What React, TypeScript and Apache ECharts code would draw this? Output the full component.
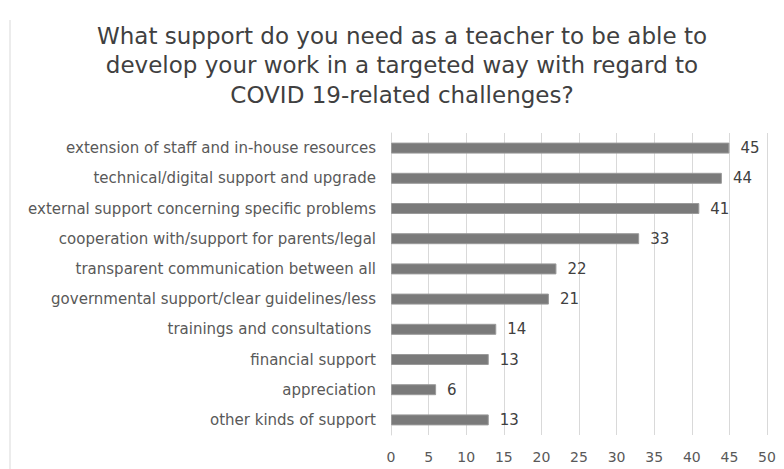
import React, { useEffect, useRef } from "react";
import * as echarts from "echarts";

const categories = [
  "extension of staff and in-house resources",
  "technical/digital support and upgrade",
  "external support concerning specific problems",
  "cooperation with/support for parents/legal",
  "transparent communication between all",
  "governmental support/clear guidelines/less",
  "trainings and consultations ",
  "financial support",
  "appreciation",
  "other kinds of support",
];
const values = [45, 44, 41, 33, 22, 21, 14, 13, 6, 13];
const titleText =
  "What support do you need as a teacher to be able to\ndevelop your work in a targeted way with regard to\nCOVID 19-related challenges?";

export default function App() {
  const ref = useRef<HTMLDivElement>(null);
  useEffect(() => {
    if (!ref.current) return;
    const chart = echarts.init(ref.current, null, { renderer: "svg" });
    chart.setOption({
      animation: false,
      backgroundColor: "#ffffff",
      graphic: [
        {
          type: "line",
          shape: { x1: 10, y1: 20, x2: 10, y2: 469 },
          style: { stroke: "#d9d9d9", lineWidth: 1 },
        },
        {
          type: "text",
          x: 402,
          y: 21,
          style: {
            text: titleText,
            textAlign: "center",
            textVerticalAlign: "top",
            fontFamily: "DejaVu Sans, sans-serif",
            fontSize: 23,
            lineHeight: 29.5,
            fill: "#404040",
          },
        },
      ],
      grid: { left: 391, right: 17, top: 133, bottom: 34, containLabel: false },
      xAxis: {
        type: "value",
        min: 0,
        max: 50,
        interval: 5,
        axisLine: { show: false },
        axisTick: { show: false },
        splitLine: { show: true, lineStyle: { color: "#d9d9d9", width: 1 } },
        axisLabel: {
          color: "#595959",
          fontFamily: "DejaVu Sans, sans-serif",
          fontSize: 14,
          margin: 15,
        },
      },
      yAxis: {
        type: "category",
        inverse: true,
        data: categories,
        axisLine: { show: true, lineStyle: { color: "#d9d9d9" } },
        axisTick: { show: false },
        axisLabel: {
          color: "#595959",
          fontFamily: "DejaVu Sans, sans-serif",
          fontSize: 15,
          margin: 15,
        },
      },
      series: [
        {
          type: "bar",
          data: values,
          barWidth: 11,
          itemStyle: { color: "#7a7a7a", borderColor: "#9a9a9a", borderWidth: 1 },
          label: {
            show: true,
            position: "right",
            distance: 11,
            color: "#404040",
            fontFamily: "DejaVu Sans, sans-serif",
            fontSize: 15,
          },
        },
      ],
    });
    return () => chart.dispose();
  }, []);
  return (
    <div
      ref={ref}
      style={{ position: "fixed", left: 0, top: 0, width: 784, height: 469 }}
    />
  );
}
